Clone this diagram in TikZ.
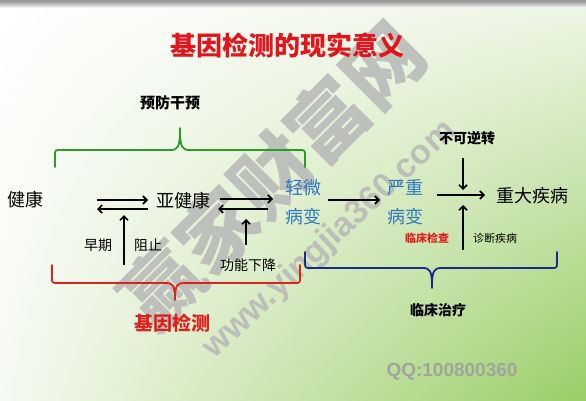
\documentclass[tikz,border=0pt]{standalone}
\usepackage{fontspec}
\setmainfont{Liberation Sans}
\newfontfamily\cjk{Noto Sans CJK SC}
\usetikzlibrary{arrows.meta,shadings}
\definecolor{titlered}{HTML}{E3141B}
\definecolor{braceGreen}{HTML}{2E9A2A}
\definecolor{braceRed}{HTML}{E0201C}
\definecolor{braceBlue}{HTML}{1C2A8C}
\definecolor{txtBlue}{HTML}{2F78C0}
\definecolor{bgGreen}{HTML}{9ACD66}
\definecolor{bgTR}{HTML}{EEF6E6}
\definecolor{bgBL}{HTML}{F6FAF2}
\definecolor{wmGray}{HTML}{B4B4B4}
\definecolor{qqGray}{HTML}{A0A59C}
\begin{document}
\begin{tikzpicture}[x=1pt,y=1pt,
  big/.style={font=\cjk\fontsize{18}{29}\selectfont, inner sep=0pt, align=center},
  mid/.style={font=\cjk\fontsize{14}{16}\selectfont, inner sep=0pt},
  tiny/.style={font=\cjk\fontsize{11}{13}\selectfont, inner sep=0pt},
  arr/.style={line width=1.7pt, -{Straight Barb[length=4pt,width=8pt,line width=1.7pt]}},
  brace/.style={line width=1.8pt, line cap=round, line join=round},
  wm/.style={text=wmGray, opacity=0.8, inner sep=0pt}]
\useasboundingbox (0,0) rectangle (586,400);
\clip (0,0) rectangle (586,400);
% background
\shade[upper left=white, upper right=bgTR, lower left=bgBL, lower right=bgGreen] (0,0) rectangle (586,400);
\shade[top color=black!35, bottom color=white] (0,392) rectangle (586,398);
\fill[black!40] (0,398) rectangle (586,400);
% watermark
\node[wm, rotate=45, font=\cjk\bfseries\fontsize{78}{78}\selectfont] (wm1) at (272,225) {赢家财富网};
\node[wm, rotate=43, font=\bfseries\fontsize{34}{34}\selectfont] (wm2) at (330,160) {www.yingjia360.com};
% title
\node[font=\cjk\bfseries\fontsize{26}{28}\selectfont, text=titlered, inner sep=0pt] (title) at (287,355) {基因检测的现实意义};
% texts
\node[mid, font=\cjk\bfseries\fontsize{15}{17}\selectfont] (yfgy) at (170,297) {预防干预};
\node[big] (jk) at (26,200) {健康};
\node[big] (yjk) at (183,199) {亚健康};
\node[big, text=txtBlue] (qw) at (303,197.5) {轻微\\病变};
\node[big, text=txtBlue] (yz) at (405,197.5) {严重\\病变};
\node[big] (zd) at (532,204) {重大疾病};
\node[mid, font=\cjk\bfseries\fontsize{14}{16}\selectfont] (bkn) at (467,262) {不可逆转};
\node[tiny, font=\cjk\bfseries\fontsize{11}{13}\selectfont, text=braceRed] (lcjc) at (427,162) {临床检查};
\node[tiny] (zdjb) at (495,162) {诊断疾病};
\node[mid] (zq) at (98,155) {早期};
\node[mid] (zz) at (148,155) {阻止};
\node[mid] (gnxj) at (248,135) {功能下降};
\node[font=\cjk\bfseries\fontsize{19}{21}\selectfont, text=braceRed, inner sep=0pt] (jyjc) at (172,77) {基因检测};
\node[mid, font=\cjk\bfseries\fontsize{14}{16}\selectfont] (lczl) at (438,90) {临床治疗};
\node[font=\bfseries\fontsize{19}{21}\selectfont, text=qqGray, inner sep=0pt] (qq) at (452,28) {QQ:100800360};
% arrow end points
\coordinate (a1s) at (97,200); \coordinate (a1e) at (148,200);
\coordinate (a2s) at (148,191); \coordinate (a2e) at (97,191);
\coordinate (a3s) at (220,201); \coordinate (a3e) at (273,201);
\coordinate (a4s) at (268,191); \coordinate (a4e) at (218,191);
\coordinate (u1s) at (124,135); \coordinate (u1e) at (124,185);
\coordinate (u2s) at (246,155); \coordinate (u2e) at (246,181);
\coordinate (b1s) at (328,200); \coordinate (b1e) at (380,200);
\coordinate (d1s) at (463,242); \coordinate (d1e) at (463,210);
\coordinate (c1s) at (437,205); \coordinate (c1e) at (485,205);
\coordinate (e1s) at (463,150); \coordinate (e1e) at (463,195);
\draw[arr] (a1s) -- (a1e);
\draw[arr] (a2s) -- (a2e);
\draw[arr] (a3s) -- (a3e);
\draw[arr] (a4s) -- (a4e);
\draw[arr] (u1s) -- (u1e);
\draw[arr] (u2s) -- (u2e);
\draw[arr] (b1s) -- (b1e);
\draw[arr] (d1s) -- (d1e);
\draw[arr] (c1s) -- (c1e);
\draw[arr] (e1s) -- (e1e);
% braces
\draw[brace, braceGreen] (55,233) -- (55,244) .. controls (55,250) .. (61,250) -- (170,250)
  .. controls (178,250) and (180,252) .. (180,272)
  .. controls (180,252) and (182,250) .. (190,250) -- (299,250)
  .. controls (305,250) .. (305,244) -- (305,233);
\draw[brace, braceRed] (52,135) -- (52,123) .. controls (52,117) .. (58,117) -- (165,117)
  .. controls (173,117) and (175,115) .. (175,100)
  .. controls (175,115) and (177,117) .. (185,117) -- (294,117)
  .. controls (300,117) .. (300,123) -- (300,135);
\draw[brace, braceBlue] (305,148) -- (305,138) .. controls (305,132) .. (311,132) -- (422,132)
  .. controls (430,132) and (432,130) .. (432,112)
  .. controls (432,130) and (434,132) .. (442,132) -- (551,132)
  .. controls (557,132) .. (557,138) -- (557,148);
\end{tikzpicture}
\end{document}
